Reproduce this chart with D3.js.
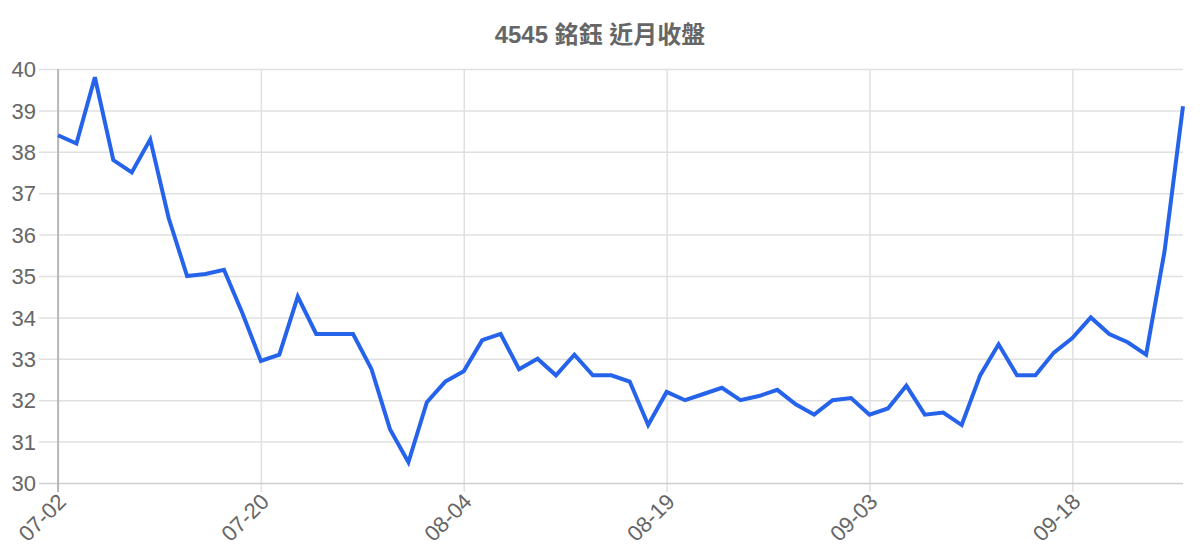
<!DOCTYPE html>
<html>
<head>
<meta charset="utf-8">
<script src="https://cdn.jsdelivr.net/npm/d3@7"></script>
<style>
  body { margin: 0; background: #fff; }
  svg { display: block; }
  .chart text { font-family: "Liberation Sans", Arial, "Noto Sans CJK TC", sans-serif; fill: #666; }
  .chart__title { font-weight: bold; font-size: 24px; }
  .tick text { font-size: 22px; }
</style>
</head>
<body>
<svg class="chart" width="1200" height="560"></svg>
<script>
const title = '4545 銘鈺 近月收盤'

const dates = [
  '07-02', '07-03', '07-04', '07-07', '07-08', '07-09', '07-10', '07-11', '07-14', '07-15', '07-18',
  '07-20', '07-21', '07-22', '07-23', '07-24', '07-25', '07-28', '07-29', '07-30', '07-31', '08-01',
  '08-04', '08-05', '08-06', '08-07', '08-08', '08-11', '08-12', '08-13', '08-14', '08-15', '08-18',
  '08-19', '08-20', '08-21', '08-22', '08-25', '08-26', '08-27', '08-28', '08-29', '09-01', '09-02',
  '09-03', '09-04', '09-05', '09-08', '09-09', '09-10', '09-11', '09-12', '09-15', '09-16', '09-17',
  '09-18', '09-19', '09-22', '09-23', '09-24', '09-25', '09-26'
]

const closes = [
  38.4, 38.2, 39.8, 37.8, 37.5, 38.3, 36.4, 35.0, 35.05, 35.15, 34.1,
  32.95, 33.1, 34.5, 33.6, 33.6, 33.6, 32.75, 31.3, 30.5, 31.95, 32.45,
  32.7, 33.45, 33.6, 32.75, 33.0, 32.6, 33.1, 32.6, 32.6, 32.45, 31.4,
  32.2, 32.0, 32.15, 32.3, 32.0, 32.1, 32.25, 31.9, 31.65, 32.0, 32.05,
  31.65, 31.8, 32.35, 31.65, 31.7, 31.4, 32.6, 33.35, 32.6, 32.6, 33.15,
  33.5, 34.0, 33.6, 33.4, 33.1, 35.6, 39.1
]

const yTicks = [30, 31, 32, 33, 34, 35, 36, 37, 38, 39, 40]
const xTickEvery = 11

const margin = { top: 69, right: 17, bottom: 77, left: 58 }
const svg = d3.select('.chart')
const width = +svg.attr('width') - margin.left - margin.right
const height = +svg.attr('height') - margin.top - margin.bottom

const data = dates.map((d, i) => ({ date: d, close: closes[i] }))

const x = d3.scalePoint()
  .domain(dates)
  .range([0, width])
const y = d3.scaleLinear()
  .domain([30, 40])
  .range([height, 0])

svg.append('text')
  .attr('class', 'chart__title')
  .attr('x', 600)
  .attr('y', 43)
  .attr('text-anchor', 'middle')
  .text(title)

const g = svg.append('g')
  .attr('transform', `translate(${margin.left}, ${margin.top})`)

// vertical grid + x ticks
const xAxis = d3.axisBottom(x)
  .tickValues(dates.filter((d, i) => i % xTickEvery === 0))
  .tickSize(-height)
  .tickSizeOuter(0)
  .tickPadding(10)

const gx = g.append('g')
  .attr('transform', `translate(0, ${height})`)
  .call(xAxis)
gx.select('.domain').remove()
gx.selectAll('.tick line')
  .attr('y2', -height)
  .attr('y1', 9)
  .attr('stroke', '#e0e0e0')
  .attr('stroke-width', 1.5)
gx.selectAll('.tick text')
  .attr('text-anchor', 'end')
  .attr('y', 0)
  .attr('dy', 0)
  .attr('transform', 'translate(9, 20) rotate(-45)')

// horizontal grid + y ticks
const yAxis = d3.axisLeft(y)
  .tickValues(yTicks)
  .tickSize(-width)
  .tickSizeOuter(0)
  .tickPadding(22)

const gy = g.append('g').call(yAxis)
gy.select('.domain').remove()
gy.selectAll('.tick line')
  .attr('x1', -19)
  .attr('x2', width)
  .attr('stroke', d => d === 30 ? '#cfcfcf' : '#e0e0e0')
  .attr('stroke-width', 1.5)
gy.selectAll('.tick text')
  .attr('text-anchor', 'end')
  .attr('dy', '0.35em')

// left axis line
g.append('line')
  .attr('x1', 0)
  .attr('x2', 0)
  .attr('y1', 0)
  .attr('y2', height + 9)
  .attr('stroke', '#aaa')
  .attr('stroke-width', 1.5)

const line = d3.line()
  .x(d => x(d.date))
  .y(d => y(d.close))

g.append('path')
  .datum(data)
  .attr('fill', 'none')
  .attr('stroke', '#2563eb')
  .attr('stroke-width', 4)
  .attr('stroke-linejoin', 'miter')
  .attr('d', line)
</script>
</body>
</html>
